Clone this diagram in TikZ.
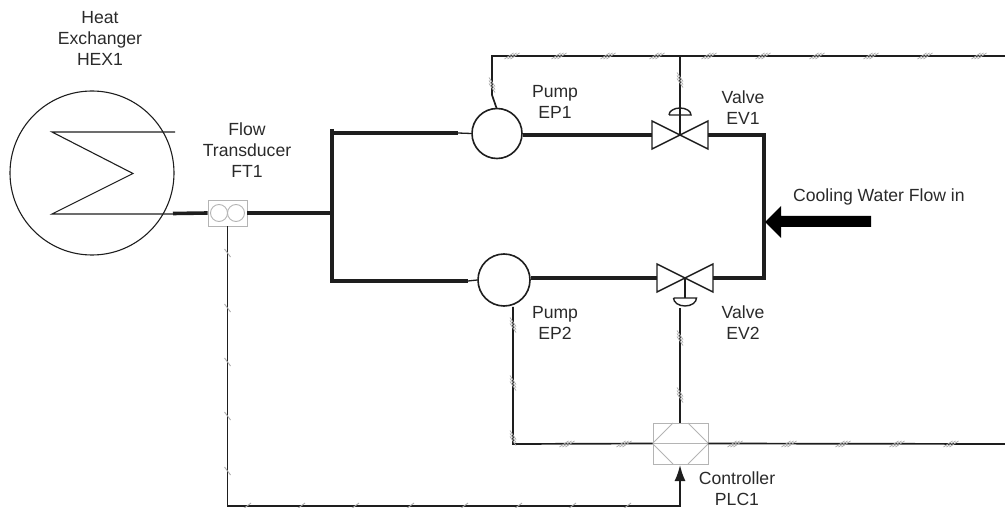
\documentclass[tikz,border=0pt]{standalone}
\usepackage{fontspec}
\setmainfont{Liberation Sans}
\usetikzlibrary{arrows.meta}
\definecolor{ink}{HTML}{1E1E1E}
\definecolor{txt}{HTML}{2A2A2A}
\definecolor{boxgrey}{HTML}{B4B4B4}
\definecolor{tickgrey}{HTML}{ABABAB}
\tikzset{
  x=1pt,y=-1pt,
  lab/.style={align=center,inner sep=0pt,text=txt,font=\fontsize{17.6}{21}\selectfont},
  mainpipe/.style={draw=ink,line width=3.6pt,line join=miter},
  thinpipe/.style={draw=ink,line width=1.3pt},
  signal/.style={draw=ink,line width=1.7pt,line join=miter},
  sym/.style={draw=ink,line width=1.4pt},
  pumpnode/.style={circle,draw=ink,line width=1.6pt,inner sep=0pt,fill=white},
  greybox/.style={rectangle,draw=boxgrey,line width=0.9pt,inner sep=0pt},
  greyline/.style={draw=boxgrey,line width=0.9pt},
  hatch/.pic={
    \foreach \d in {-3,0,3}
      \draw[tickgrey,line width=0.8pt] (\d-4.5,3) -- (\d+4.5,-3);
  },
  onetick/.pic={
    \draw[tickgrey,line width=0.9pt] (-4,3) -- (4,-3);
  },
  valve/.pic={
    \coordinate (-c) at (0,0);
    \coordinate (-l) at (-28,0);
    \coordinate (-r) at (28,0);
    \draw[sym,line join=miter] (-28,-14) -- (28,14) -- (28,-14) -- (-28,14) -- cycle;
  },
  domeup/.pic={
    \coordinate (-base) at (0,0);
    \draw[sym] (-11,0) -- (11,0) arc[start angle=0,end angle=-180,x radius=11,y radius=7];
  },
  domedown/.pic={
    \coordinate (-base) at (0,0);
    \draw[sym] (-11.5,0) -- (11.5,0) arc[start angle=0,end angle=180,x radius=11.5,y radius=8];
  },
}
\begin{document}
\begin{tikzpicture}
\useasboundingbox (0,0) rectangle (1005,508);

% named junctions
\coordinate (busL) at (492,56);
\coordinate (busR) at (1005,56);
\coordinate (busV) at (680,56);
\coordinate (bendA) at (492,95);
\coordinate (bendB) at (496.5,108);
\coordinate (hdrT) at (332,129);
\coordinate (hdrB) at (332,281);
\coordinate (hdrM) at (332,213);
\coordinate (up1) at (332,133);
\coordinate (th1) at (458,133);
\coordinate (th2) at (468,281);
\coordinate (rT) at (764,135);
\coordinate (rB) at (764,278);
\coordinate (hexOut) at (173,213.5);
\coordinate (bus2L) at (513,444);
\coordinate (bus2R) at (1005,444);
\coordinate (lowL) at (227.5,506);
\coordinate (lowR) at (680,506);
\coordinate (sig2T) at (680,308);

% heat exchanger
\node[circle,draw=ink,line width=1.1pt,minimum size=164pt,inner sep=0pt] (hex) at (92,173) {};
\coordinate (z1) at (175,132);
\coordinate (z2) at (52,132);
\coordinate (z3) at (133,173.5);
\coordinate (z4) at (52,214);
\coordinate (z5) at (173,214);
\draw[draw=ink,line width=1.1pt,line join=miter] (z1) -- (z2) -- (z3) -- (z4) -- (z5);

% flow transducer
\node[greybox,minimum width=39pt,minimum height=26pt] (ft) at (227.5,213) {};
\node[circle,draw=boxgrey,line width=0.9pt,minimum size=17pt,inner sep=0pt] (ftA) at (219,213) {};
\node[circle,draw=boxgrey,line width=0.9pt,minimum size=17pt,inner sep=0pt] (ftB) at (236,213) {};

% pumps
\node[pumpnode,minimum size=50pt] (ep1) at (497,133.5) {};
\node[pumpnode,minimum size=52pt] (ep2) at (504,280) {};

% valves and actuators
\pic (ev1) at (680,135) {valve};
\pic (ev2) at (685,278) {valve};
\pic (ac1) at (680,115) {domeup};
\pic (ac2) at (685,298) {domedown};

% controller
\node[greybox,minimum width=55pt,minimum height=41pt] (plc) at (680.5,443.5) {};
\coordinate (hxA) at (673,423);
\coordinate (hxB) at (688,423);
\coordinate (hxC) at (688,464);
\coordinate (hxD) at (673,464);
\draw[greyline] (plc.west) -- (hxA) (hxB) -- (plc.east) -- (hxC) (hxD) -- (plc.west) -- (plc.east);
\coordinate (plcTop) at (680,423);
\coordinate (plcBot) at (680,465);

% process pipes
\draw[mainpipe] (hexOut) -- (ft.west);
\draw[mainpipe] (ft.east) -- (hdrM);
\draw[mainpipe] (hdrT) -- (hdrB) -- (th2);
\draw[mainpipe] (up1) -- (th1);
\draw[thinpipe] (th1) -- (ep1.west);
\draw[thinpipe] (th2) -- (ep2.west);
\draw[mainpipe] (ep1.east |- ev1-c) -- (ev1-l);
\draw[mainpipe] (ep2.east |- ev2-c) -- (ev2-l);
\draw[mainpipe] (ev1-r) -- (rT) -- (rB) -- (ev2-r);

% signal lines
\draw[signal] (bendB) -- (bendA) -- (busL) -- (busR);
\draw[signal] (busV) -- (ev1-c);
\draw[signal] (ac2-base) -- (ev2-c);
\draw[signal] (sig2T) -- (plcTop);
\draw[signal] (ep2.south -| bus2L) -- (bus2L) -- (plc.west);
\draw[signal] (plc.east) -- (bus2R);
\draw[signal,-{Latex[length=16pt,width=11pt]}] (ft.south) -- (lowL) -- (lowR) -- (plcBot);

% inlet arrow
\coordinate (aT) at (765,222);
\fill[black] (aT) -- (781,206) -- (781,216) -- (871,216) -- (871,227) -- (781,227) -- (781,238) -- cycle;

% hatch marks
\foreach \x in {512,559,608,657,709,763,817,871,925,979}
  \pic at (\x,56) {hatch};
\foreach \x in {567,624,735,789,843,897,951}
  \pic at (\x,444) {hatch};
\foreach \p in {(492,85),(680,80),(513,325),(513,383),(513,438),(680,338),(680,395)}
  \pic[rotate=-90] at \p {hatch};
\foreach \y in {253,308,362,416,471}
  \pic[rotate=-90] at (227.5,\y) {onetick};
\foreach \x in {247,301,355,410,464,518,572,627}
  \pic at (\x,506) {onetick};

% labels
\node[lab] (lHex) at (100,38.5) {Heat\\Exchanger\\HEX1};
\node[lab] (lFt) at (247,150) {Flow\\Transducer\\FT1};
\node[lab] (lEp1) at (555,102) {Pump\\EP1};
\node[lab] (lEv1) at (743,107.5) {Valve\\EV1};
\node[lab] (lEp2) at (555,323) {Pump\\EP2};
\node[lab] (lEv2) at (743,323) {Valve\\EV2};
\node[lab] (lPlc) at (737,489) {Controller\\PLC1};
\node[lab,anchor=west] (lFlow) at (793,197) {Cooling Water Flow in};
\end{tikzpicture}
\end{document}
